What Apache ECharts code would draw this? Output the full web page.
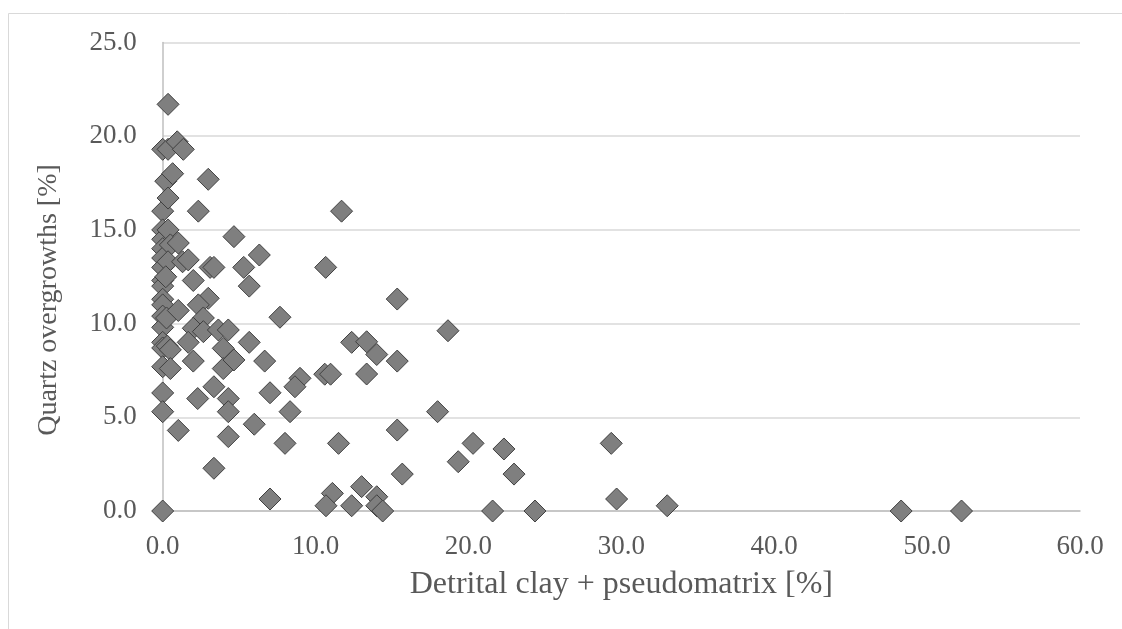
<!DOCTYPE html>
<html>
<head>
<meta charset="utf-8">
<script src="https://cdn.jsdelivr.net/npm/echarts@6/dist/echarts.min.js"></script>
<style>
html,body{margin:0;padding:0;background:#fff;}
#c{width:1122px;height:629px;}
</style>
</head>
<body>
<div id="c"></div>
<script>
// Detrital clay + pseudomatrix [%]
const clayPct = [
  0, 0, 0, 0, 0, 0, 0, 0, 0, 0, 0, 0, 0, 0, 0, 0, 0, 0, 0,
  0.35, 0.35, 0.2, 0.65, 0.35, 0.35, 0.5, 0.35, 0.25, 0.3, 0.5, 0.5, 0.2,
  0.95, 1.35, 2.98, 2.33, 1.02, 1.3, 1.67, 3.1, 3.35, 2.0, 2.98, 2.33, 1.02,
  2.66, 2.0, 2.66, 3.64, 4.29, 1.67, 3.96, 2.0, 3.96, 3.35, 2.29, 4.29, 4.29,
  1.02, 4.29, 3.35,
  4.66, 6.32, 5.3, 5.66, 7.67, 5.66, 4.66, 6.67, 8.98, 8.65, 7.02, 8.33, 5.99,
  8.0, 7.02,
  10.66, 11.7, 15.34, 18.66, 12.36, 13.34, 14.0, 15.34, 10.6, 10.98, 13.34,
  17.98, 15.34, 11.5, 20.3, 19.33, 15.67, 13.01, 11.1, 10.68, 12.36, 14.0, 14.0,
  14.39, 21.58, 22.32, 22.98, 24.35, 29.34, 29.69, 33.0, 48.3, 52.25
];
// Quartz overgrowths [%]
const qoPct = [
  19.3, 16.0, 15.0, 14.5, 14.0, 13.5, 13.0, 12.3, 12.0, 11.3, 11.0, 10.4, 9.8, 9.0, 8.7, 7.7, 6.3, 5.3, 0.0,
  21.7, 19.3, 17.6, 18.0, 16.7, 15.0, 14.2, 13.3, 10.3, 8.8, 8.6, 7.6, 12.5,
  19.7, 19.3, 17.7, 16.0, 14.3, 13.3, 13.4, 13.0, 13.0, 12.3, 11.35, 11.0, 10.7,
  10.3, 9.75, 9.57, 9.66, 9.66, 9.0, 8.68, 8.0, 7.6, 6.63, 6.0, 6.0, 5.3,
  4.3, 3.97, 2.28,
  14.64, 13.66, 13.0, 12.0, 10.34, 9.0, 8.06, 8.0, 7.08, 6.63, 6.31, 5.3, 4.63,
  3.61, 0.64,
  13.0, 16.0, 11.31, 9.62, 9.0, 9.03, 8.35, 8.0, 7.3, 7.3, 7.31,
  5.3, 4.32, 3.61, 3.61, 2.63, 1.97, 1.3, 0.94, 0.28, 0.28, 0.76, 0.28,
  0.0, 0.0, 3.31, 1.97, 0.0, 3.61, 0.64, 0.28, 0.0, 0.0
];
const xTicks = ['0.0', '10.0', '20.0', '30.0', '40.0', '50.0', '60.0'];
const yTicks = ['0.0', '5.0', '10.0', '15.0', '20.0', '25.0'];
const xTitle = 'Detrital clay + pseudomatrix [%]';
const yTitle = 'Quartz overgrowths [%]';

const points = clayPct.map((x, i) => [x, qoPct[i]]);
const FONT = '"Liberation Serif", "Times New Roman", serif';

const chart = echarts.init(document.getElementById('c'), null, {renderer: 'canvas'});
chart.setOption({
  animation: false,
  backgroundColor: '#ffffff',
  grid: {left: 162.7, right: 42, top: 42.5, bottom: 118, containLabel: false},
  graphic: [
    {type: 'rect', silent: true, z: -1,
     shape: {x: 8.5, y: 13.5, width: 1300, height: 800},
     style: {fill: 'none', stroke: '#d9d9d9', lineWidth: 1}},
    {type: 'text', x: 49, y: 300, rotation: Math.PI / 2,
     style: {text: yTitle, font: '28px ' + FONT, fill: '#595959',
             textAlign: 'center', textVerticalAlign: 'middle'}}
  ],
  xAxis: {
    type: 'value', min: 0, max: 60, interval: 10,
    name: xTitle, nameLocation: 'middle', nameGap: 58,
    nameTextStyle: {fontFamily: FONT, fontSize: 32, color: '#595959'},
    axisLine: {show: true, onZero: false, lineStyle: {color: '#bfbfbf', width: 1.5}},
    axisTick: {show: false},
    splitLine: {show: false},
    axisLabel: {fontFamily: FONT, fontSize: 27, color: '#595959', margin: 22,
      formatter: (v) => xTicks[Math.round(v / 10)]}
  },
  yAxis: {
    type: 'value', min: 0, max: 25, interval: 5,
    axisLine: {show: true, lineStyle: {color: '#bfbfbf', width: 1.5}},
    axisTick: {show: false},
    splitLine: {show: true, lineStyle: {color: '#d9d9d9', width: 1.5}},
    axisLabel: {fontFamily: FONT, fontSize: 27, color: '#595959', margin: 26,
      formatter: (v) => yTicks[Math.round(v / 5)]}
  },
  series: [{
    type: 'scatter',
    data: points,
    symbol: 'diamond',
    symbolSize: [22, 22],
    itemStyle: {color: '#7f7f7f', borderColor: '#404040', borderWidth: 1, opacity: 1}
  }]
});
</script>
</body>
</html>
